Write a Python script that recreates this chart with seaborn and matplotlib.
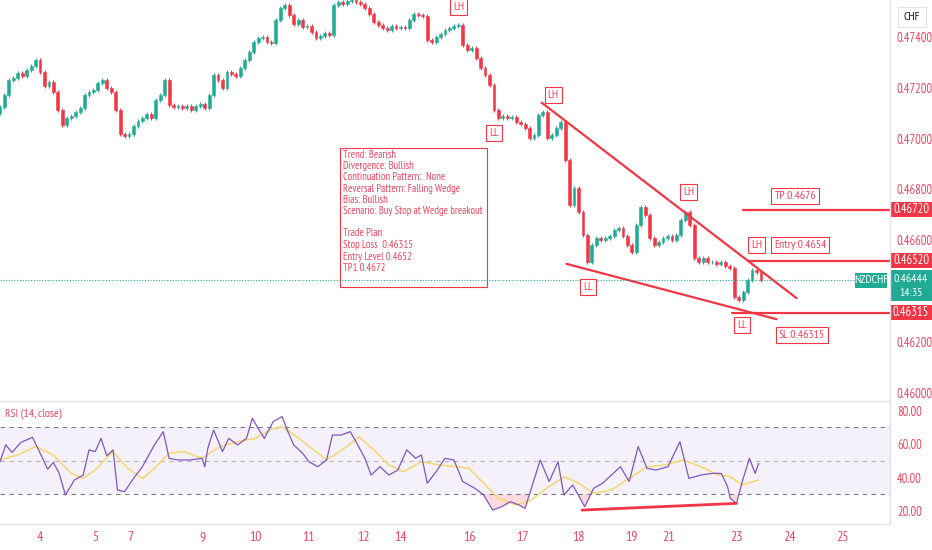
import matplotlib
matplotlib.use('Agg')
import matplotlib.pyplot as plt
import matplotlib.transforms as mtransforms
from matplotlib import font_manager
from matplotlib.patches import Rectangle
import numpy as np
import seaborn as sns

# NZDCHF 2h closes (one value per candle)
closes = [
    0.47125, 0.47172, 0.47231, 0.47239, 0.47259, 0.47247, 0.47270, 0.47286, 0.47310, 0.47263,
    0.47207, 0.47223, 0.47184, 0.47113, 0.47054, 0.47081, 0.47089, 0.47105, 0.47121, 0.47172,
    0.47184, 0.47192, 0.47219, 0.47231, 0.47200, 0.47184, 0.47113, 0.47018, 0.47011, 0.47018,
    0.47050, 0.47070, 0.47081, 0.47097, 0.47081, 0.47152, 0.47172, 0.47231, 0.47133, 0.47125,
    0.47129, 0.47121, 0.47129, 0.47113, 0.47129, 0.47137, 0.47121, 0.47172, 0.47251, 0.47231,
    0.47200, 0.47263, 0.47255, 0.47247, 0.47278, 0.47310, 0.47341, 0.47381, 0.47396, 0.47400,
    0.47381, 0.47377, 0.47467, 0.47515, 0.47526, 0.47487, 0.47452, 0.47467, 0.47440, 0.47444,
    0.47420, 0.47396, 0.47404, 0.47416, 0.47408, 0.47526, 0.47538, 0.47530, 0.47542, 0.47546,
    0.47538, 0.47530, 0.47515, 0.47491, 0.47459, 0.47448, 0.47436, 0.47428, 0.47444, 0.47436,
    0.47440, 0.47436, 0.47467, 0.47491, 0.47487, 0.47483, 0.47389, 0.47381, 0.47400, 0.47412,
    0.47428, 0.47436, 0.47444, 0.47448, 0.47369, 0.47349, 0.47357, 0.47318, 0.47278, 0.47251,
    0.47211, 0.47113, 0.47081, 0.47089, 0.47081, 0.47085, 0.47066, 0.47058, 0.47042, 0.47003,
    0.47015, 0.47093, 0.47105, 0.47003, 0.47015, 0.47042, 0.47066, 0.46916, 0.46739, 0.46806,
    0.46711, 0.46621, 0.46515, 0.46581, 0.46609, 0.46601, 0.46609, 0.46617, 0.46640, 0.46648,
    0.46617, 0.46581, 0.46554, 0.46660, 0.46731, 0.46700, 0.46609, 0.46581, 0.46593, 0.46609,
    0.46617, 0.46601, 0.46621, 0.46680, 0.46711, 0.46660, 0.46530, 0.46515, 0.46530, 0.46515,
    0.46515, 0.46507, 0.46515, 0.46499, 0.46491, 0.46377, 0.46365, 0.46396, 0.46444, 0.46483,
    0.46475, 0.46444,
]
first_open = 0.47100

rsi_x = [0, 1.3, 2.7, 4.7, 7.3, 9.3, 10.7, 12, 13.3, 14.7, 16.7, 18.7, 20, 21.4, 22.7, 24, 25.4,
         26.4, 28, 30, 32, 34.7, 36.7, 38, 40, 42.7, 45.4, 46, 46.7, 48, 50, 51.4, 53.4, 55.4,
         56.7, 58, 59.4, 61.4, 63.4, 64.7, 66, 68, 69.4, 71.4, 73.4, 74.7, 76.7, 78.7, 80, 82,
         83.4, 85.4, 87.4, 89.4, 91.4, 93.4, 94.7, 96, 98, 100, 102, 104, 106.7, 108.7, 110.7,
         112.7, 114.7, 116.7, 118, 119.4, 121.4, 123.4, 125.4, 126.7, 128.7, 131.4, 133.4, 135.4,
         137.4, 139.4, 141.4, 143.4, 145.4, 147.4, 150.1, 152.8, 154.8, 157.5, 160.1, 162.1,
         163.5, 164.1, 165.5, 166.8, 168.4, 169.7, 170.5]
rsi_vals = [49.5, 59.5, 55, 61, 64, 53, 45, 49, 42.5, 29.6, 38.5, 41.5, 56.5, 55.5, 63.4, 53, 56.5,
            32.6, 31.6, 39.5, 46.5, 59.5, 67.4, 51.5, 50.5, 50.5, 51.5, 46.5, 57.5, 68.4, 55.5,
            63.4, 59.5, 63.4, 75.4, 69.4, 63.4, 73.4, 76.4, 67.4, 59.5, 54.5, 49.5, 46.5, 50.5,
            65.4, 65.4, 67.4, 61.4, 51.5, 41.5, 46.5, 41.5, 44.5, 56.5, 51.5, 53.5, 36.6, 43.5,
            51.5, 50.5, 37.6, 33.6, 29.6, 20.6, 22.6, 25.6, 23.6, 21.6, 33.6, 50.5, 37.6, 49.5,
            29.6, 35.6, 22.6, 33.6, 36.6, 41.5, 46.5, 37.6, 58.5, 45.5, 44.5, 46.5, 61.4, 39.5,
            41.5, 42.5, 42.5, 34.6, 27.6, 24.6, 37.6, 51.5, 42.5, 48.5]
ma_x = [0, 4, 8, 12, 16, 18.7, 21.4, 25.4, 28.7, 32, 34.7, 38, 41.4, 45.4, 49.4, 53.4, 57.4, 60.7,
        63.4, 66.7, 70, 73.4, 77.4, 80.7, 84, 87.4, 90.7, 94.7, 98.7, 102.7, 105.4, 108.7, 112,
        116, 119.4, 122.8, 126.8, 130.1, 133.4, 137.4, 141.4, 145.4, 149.4, 153.5, 157.5, 161.5,
        164.1, 166.8, 170.5]
ma_vals = [50.5, 53.5, 58.5, 53.5, 42.5, 39.5, 44.5, 55.5, 45.5, 39.5, 45.5, 54.5, 55.5, 51.5,
           58.5, 61.4, 63.4, 68.4, 70.4, 64.4, 57.5, 50.5, 57.5, 64.4, 56.5, 47.5, 43.5, 49.5,
           47.5, 46.5, 45.5, 36.6, 27.6, 23.6, 26.6, 33.6, 40.5, 36.6, 30.6, 32.6, 39.5, 46.5,
           47.5, 50.5, 46.5, 41.5, 40.5, 35.6, 38.5]

price_ticks = [0.460, 0.462, 0.464, 0.466, 0.468, 0.470, 0.472, 0.474]
rsi_ticks = [20, 40, 60, 80]
day_labels = ['4', '5', '7', '9', '10', '11', '12', '14', '16', '17', '18', '19', '21', '23', '24', '25']
day_pos = [9.0, 21.3, 29.4, 45.4, 57.5, 69.4, 81.6, 89.9, 105.6, 117.5, 129.9, 141.8, 150.1,
           165.6, 177.5, 189.4]

# drawings
wedge_upper = ([121.7, 179.0], [0.47142, 0.46372])
wedge_lower = ([127.3, 174.5], [0.46507, 0.46289])
rsi_div = ([130.8, 165.5], [20.6, 24.6])
levels = [(0.46720, 167.0), (0.46520, 168.2), (0.46315, 164.4)]
last_price = 0.46444
swing_labels = [('LH', 103.1, 0.47518), ('LH', 124.3, 0.47172), ('LL', 111.0, 0.47022),
                ('LH', 154.8, 0.46790), ('LH', 170.1, 0.46581), ('LL', 132.1, 0.46416),
                ('LL', 166.7, 0.46267)]
plan_labels = [('TP:0.4676', 178.7, 0.46774), ('Entry:0.4654', 179.8, 0.46581),
               ('SL:0.46315', 180.2, 0.46227)]
notes = ("Trend: Bearish\nDivergence: Bullish\nContinuation Pattern:  None\n"
         "Reversal Pattern: Falling Wedge\nBias: Bullish\nScenario: Buy Stop at Wedge breakout\n\n"
         "Trade Plan\nStop Loss  0.46315\nEntry Level 0.4652\nTP1 0.4672")

RED = '#f23645'
TXT = '#ee4560'
GREEN = '#22ab94'
PURPLE = '#7e57c2'

sns.set_theme(style='white')
names = {f.name for f in font_manager.fontManager.ttflist}
narrow = 'DejaVu Sans'
for cand in ['Ubuntu Condensed', 'PT Sans Narrow', 'Roboto Condensed', 'Archivo Narrow',
             'Liberation Sans Narrow']:
    if cand in names:
        narrow = cand
        break
plt.rcParams['font.family'] = [narrow, 'DejaVu Sans']

W, H = 932, 550
fig = plt.figure(figsize=(W / 100, H / 100), dpi=100)
ax_p = fig.add_axes([0, 1 - 401 / H, 890 / W, 401 / H])
ax_r = fig.add_axes([0, 1 - 524 / H, 890 / W, 121 / H])

# ---- candles ----
idx = np.arange(len(closes))
opens = np.array([first_open] + closes[:-1])
cl = np.array(closes)
up = cl >= opens
cols = np.where(up, GREEN, RED)
wick = 0.00008
ax_p.vlines(idx, np.minimum(opens, cl) - wick, np.maximum(opens, cl) + wick, colors=cols, lw=0.7)
ax_p.bar(idx, cl - opens, bottom=opens, width=0.65, color=cols, edgecolor=cols, lw=0.4)

# wedge and trade levels
ax_p.plot(*wedge_upper, color=RED, lw=1.6)
ax_p.plot(*wedge_lower, color=RED, lw=1.6)
for lvl, start in levels:
    ax_p.plot([start, 200], [lvl, lvl], color=RED, lw=1.6)
ax_p.axhline(last_price, xmax=855 / 890, color=GREEN, ls=(0, (1, 1.5)), lw=0.8)

box = dict(boxstyle='square,pad=0.25', fc='white', ec=RED, lw=0.8)
for t, x, y in swing_labels + plan_labels:
    ax_p.text(x, y, t, color=TXT, fontsize=8.5, ha='center', va='center', bbox=box)

ax_p.add_patch(Rectangle((76.4, 0.46416), 33.0, 0.00547, fill=False, ec=RED, lw=0.8))
ax_p.text(77.1, 0.46955, notes, color=TXT, fontsize=7.7, va='top', ha='left', linespacing=1.15)

ax_p.set_xlim(0, 200)
ax_p.set_ylim(0.45967, 0.47546)
ax_p.set_xticks([])
ax_p.yaxis.tick_right()
ax_p.set_yticks(price_ticks)
ax_p.set_yticklabels([f'{v:.5f}' for v in price_ticks])
ax_p.tick_params(axis='y', length=0, pad=5, labelcolor=TXT, labelsize=9)

# right-axis price boxes
trans = mtransforms.blended_transform_factory(ax_p.transAxes, ax_p.transData)
bw = 42 / 890
for lvl, _ in levels:
    ax_p.add_patch(Rectangle((1.0, lvl - 0.00029), bw, 0.00058, transform=trans,
                             clip_on=False, fc=RED, ec='none'))
    ax_p.text(1.0 + bw / 2, lvl, f'{lvl:.5f}', transform=trans, color='white',
              fontsize=9, ha='center', va='center', clip_on=False)
ax_p.add_patch(Rectangle((1.0, 0.46360), bw, 0.00124, transform=trans, clip_on=False,
                         fc=GREEN, ec='none'))
ax_p.text(1.0 + bw / 2, 0.46449, f'{last_price:.5f}', transform=trans, color='white',
          fontsize=8.5, ha='center', va='center')
ax_p.text(1.0 + bw / 2, 0.46392, '14:35', transform=trans, color='white',
          fontsize=8.5, ha='center', va='center')
ax_p.add_patch(Rectangle((855 / 890, 0.46413), 32 / 890, 0.00059, transform=trans,
                         fc=GREEN, ec='none'))
ax_p.text(871 / 890, 0.46443, 'NZDCHF', transform=trans, color='white',
          fontsize=8.5, ha='center', va='center')

fig.text(912 / W, 1 - 17 / H, 'CHF', color='#131722', fontsize=8.5, ha='center', va='center',
         bbox=dict(boxstyle='square,pad=0.45', fc='white', ec='#e0e3eb', lw=0.8))

# ---- RSI pane ----
ax_r.axhspan(30, 70, color=PURPLE, alpha=0.08, lw=0)
for lv, a in [(70, 1.0), (50, 0.5), (30, 1.0)]:
    ax_r.axhline(lv, color='#787b86', ls=(0, (4, 4)), lw=0.8, alpha=a)
rx = np.array(rsi_x)
rv = np.array(rsi_vals)
ax_r.fill_between(rx, rv, 30, where=rv < 30, interpolate=True, color=RED, alpha=0.18, lw=0)
sns.lineplot(x=ma_x, y=ma_vals, ax=ax_r, color='#f5d76e', lw=1.1)
sns.lineplot(x=rsi_x, y=rsi_vals, ax=ax_r, color=PURPLE, lw=0.9)
ax_r.plot(*rsi_div, color=RED, lw=2)
ax_r.text(1.2, 78.5, 'RSI (14, close)', color=TXT, fontsize=8.5, va='center')

ax_r.set_xlim(0, 200)
ax_r.set_ylim(12.3, 84.5)
ax_r.set_xlabel('')
ax_r.set_ylabel('')
ax_r.yaxis.tick_right()
ax_r.set_yticks(rsi_ticks)
ax_r.set_yticklabels([f'{v:.2f}' for v in rsi_ticks])
ax_r.tick_params(axis='y', length=0, pad=5, labelcolor=TXT, labelsize=9)
ax_r.set_xticks(day_pos)
ax_r.set_xticklabels(day_labels)
ax_r.tick_params(axis='x', length=0, pad=12, labelcolor=TXT, labelsize=10)
for lab in ax_r.get_xticklabels():
    lab.set_verticalalignment('baseline')

for ax in (ax_p, ax_r):
    for s in ('top', 'left'):
        ax.spines[s].set_visible(False)
    for s in ('right', 'bottom'):
        ax.spines[s].set_color('#e0e3eb')
        ax.spines[s].set_linewidth(1)

fig.savefig('out.png', dpi=100)
